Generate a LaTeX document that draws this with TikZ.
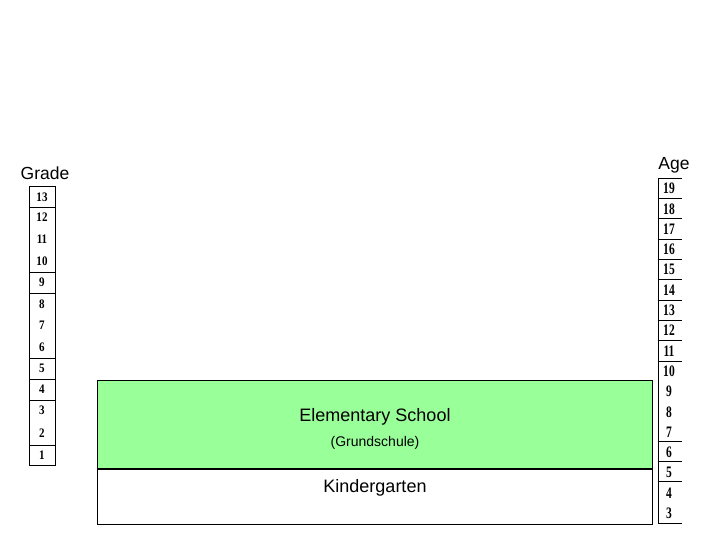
\documentclass[tikz,border=0pt]{standalone}
\usepackage{fontspec}
\usepackage{graphicx}
\setmainfont{Liberation Sans}
\newfontfamily\numfont{Liberation Serif}
\definecolor{esgreen}{HTML}{99FF99}
\tikzset{
  frame/.style={draw=black, line width=0.9pt},
  lbl/.style={inner sep=0pt, font=\fontsize{17.5}{20}\selectfont},
  gnum/.style={inner sep=0pt, font=\numfont\bfseries\fontsize{13}{13}\selectfont},
  anum/.style={inner sep=0pt, font=\numfont\bfseries\fontsize{16}{16}\selectfont},
}
\begin{document}
\begin{tikzpicture}[x=1pt, y=-1pt]
\useasboundingbox (0,0) rectangle (720,540);
% titles
\node[lbl] (grade) at (45,173) {Grade};
\node[lbl] (age) at (674,165) {Age};
% grade column
\draw[frame] (29,186.7) rectangle (55,465);
\foreach \yy in {207.3,272.7,293.3,358.3,379.3,400,445}
  \draw[frame] (29,\yy) -- (55,\yy);
\foreach \g/\yy in {13/197,12/217,11/239,10/261,9/282,8/304,7/325,6/347,5/368,4/389,3/410,2/433,1/455}
  \node[gnum] (g\g) at (42,\yy) {\scalebox{0.85}[1]{\g}};
% age column
\draw[frame] (658,178.3) -- (658,523);
\foreach \yy in {178.3,198.6,218.9,239.2,259.5,279.8,300.1,320.4,340.7,361,441.2,461.5,481.8,523}
  \draw[frame] (658,\yy) -- (682,\yy);
\foreach \a in {19,18,...,3}
  \node[anum] (a\a) at (669,{188.5+(19-\a)*20.3}) {\scalebox{0.72}[1]{\a}};
% school boxes
\draw[frame, fill=esgreen] (97,380.7) rectangle (652,469.3);
\draw[frame] (97,469.3) rectangle (652,524.5);
\draw[line width=2pt] (97,469.3) -- (652,469.3);
\node[lbl, font=\fontsize{18}{20}\selectfont] (es) at (375,416.5) {Elementary School};
\node[inner sep=0pt, font=\fontsize{14}{16}\selectfont] (gs) at (375,443) {(Grundschule)};
\node[lbl, font=\fontsize{18}{20}\selectfont] (kg) at (375,487.5) {Kindergarten};
\end{tikzpicture}
\end{document}
